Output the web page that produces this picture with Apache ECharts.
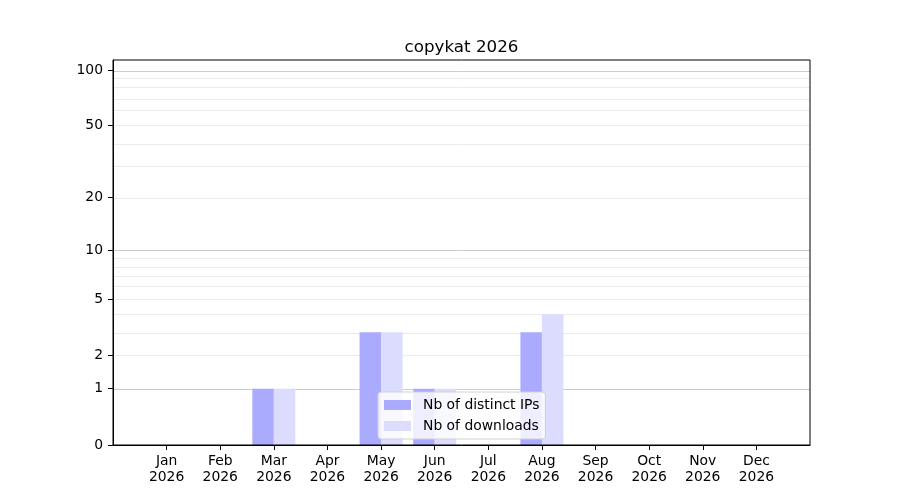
<!DOCTYPE html>
<html>
<head>
<meta charset="utf-8">
<script src="https://cdn.jsdelivr.net/npm/echarts@6/dist/echarts.min.js"></script>
<style>
  html, body { margin: 0; padding: 0; background: #fff; }
  #chart { width: 900px; height: 500px; }
</style>
</head>
<body>
<div id="chart"></div>
<script>
var months = ['Jan', 'Feb', 'Mar', 'Apr', 'May', 'Jun', 'Jul', 'Aug', 'Sep', 'Oct', 'Nov', 'Dec'];
var year = '2026';
var distinctIPs = [0, 0, 1, 0, 3, 1, 0, 3, 0, 0, 0, 0];
var downloads = [0, 0, 1, 0, 3, 1, 0, 4, 0, 0, 0, 0];
var yTicks = [0, 1, 2, 5, 10, 20, 50, 100];
var majorGrid = [1, 10, 100];
var minorGrid = [2, 3, 4, 5, 6, 7, 8, 9, 20, 30, 40, 50, 60, 70, 80, 90];
var yTop = 113.3;

// symlog-like scale: plot log10(1 + v)
function tf(v) { return Math.log10(1 + v); }

var chart = echarts.init(document.getElementById('chart'));

// pad one empty category on each side (matplotlib leaves a full slot)
var cats = [''].concat(months.map(function (m) { return m + '\n' + year; })).concat(['']);
function pad(arr) {
    return [null].concat(arr.map(function (v) { return v > 0 ? tf(v) : null; })).concat([null]);
}

var gridLines = [];
minorGrid.forEach(function (v) {
    gridLines.push({ yAxis: tf(v), lineStyle: { color: '#ebebeb', width: 1, type: 'solid' } });
});
majorGrid.forEach(function (v) {
    gridLines.push({ yAxis: tf(v), lineStyle: { color: '#cccccc', width: 1, type: 'solid' } });
});

var font = 'DejaVu Sans';

chart.setOption({
    animation: false,
    textStyle: { fontFamily: font },
    title: {
        text: 'copykat 2026',
        left: 456.5,
        textAlign: 'center',
        top: 34,
        textStyle: { fontFamily: font, fontSize: 16.7, fontWeight: 'normal', color: '#000' }
    },
    grid: {
        left: 113, right: 90, top: 60, bottom: 55, z: 3,
        show: true, borderColor: '#000', borderWidth: 1, backgroundColor: 'transparent'
    },
    legend: {
        orient: 'vertical',
        left: 378,
        top: 392,
        padding: [6, 6, 6, 6],
        itemWidth: 27,
        itemHeight: 10,
        itemGap: 7,
        icon: 'rect',
        backgroundColor: 'rgba(255,255,255,0.8)',
        borderColor: '#d0d0d0',
        borderWidth: 1,
        borderRadius: 3,
        textStyle: { fontFamily: font, fontSize: 13.9, color: '#000', padding: [0, 0, 0, 7] },
        data: ['Nb of distinct IPs', 'Nb of downloads']
    },
    xAxis: {
        type: 'category',
        data: cats,
        boundaryGap: false,
        z: 3,
        axisLine: { lineStyle: { color: '#000' } },
        axisTick: {
            length: 5,
            lineStyle: { color: '#000' },
            interval: function (i) { return i > 0 && i < cats.length - 1; }
        },
        axisLabel: {
            interval: 0,
            margin: 8,
            color: '#000',
            fontFamily: font,
            fontSize: 13.9,
            lineHeight: 16
        },
        splitLine: { show: false }
    },
    yAxis: {
        type: 'value',
        min: 0,
        max: tf(yTop),
        z: 3,
        axisLine: { show: true, lineStyle: { color: '#000' } },
        axisTick: {
            show: true,
            length: 5,
            lineStyle: { color: '#000' },
            customValues: yTicks.map(tf)
        },
        axisLabel: {
            color: '#000',
            fontFamily: font,
            fontSize: 13.9,
            margin: 10,
            customValues: yTicks.map(tf),
            formatter: function (v) { return String(Math.round(Math.pow(10, v) - 1)); }
        },
        splitLine: { show: false }
    },
    series: [
        {
            name: 'grid',
            type: 'line',
            data: [],
            z: 1,
            silent: true,
            markLine: {
                z: 1,
                silent: true,
                symbol: ['none', 'none'],
                label: { show: false },
                emphasis: { disabled: true },
                data: gridLines
            }
        },
        {
            name: 'Nb of distinct IPs',
            type: 'bar',
            z: 2,
            data: pad(distinctIPs),
            barWidth: 21.5,
            barGap: '0%',
            itemStyle: { color: '#aaaaff' }
        },
        {
            name: 'Nb of downloads',
            type: 'bar',
            z: 2,
            data: pad(downloads),
            barWidth: 21.5,
            barGap: '0%',
            itemStyle: { color: '#dcdcff' }
        }
    ]
});
</script>
</body>
</html>
